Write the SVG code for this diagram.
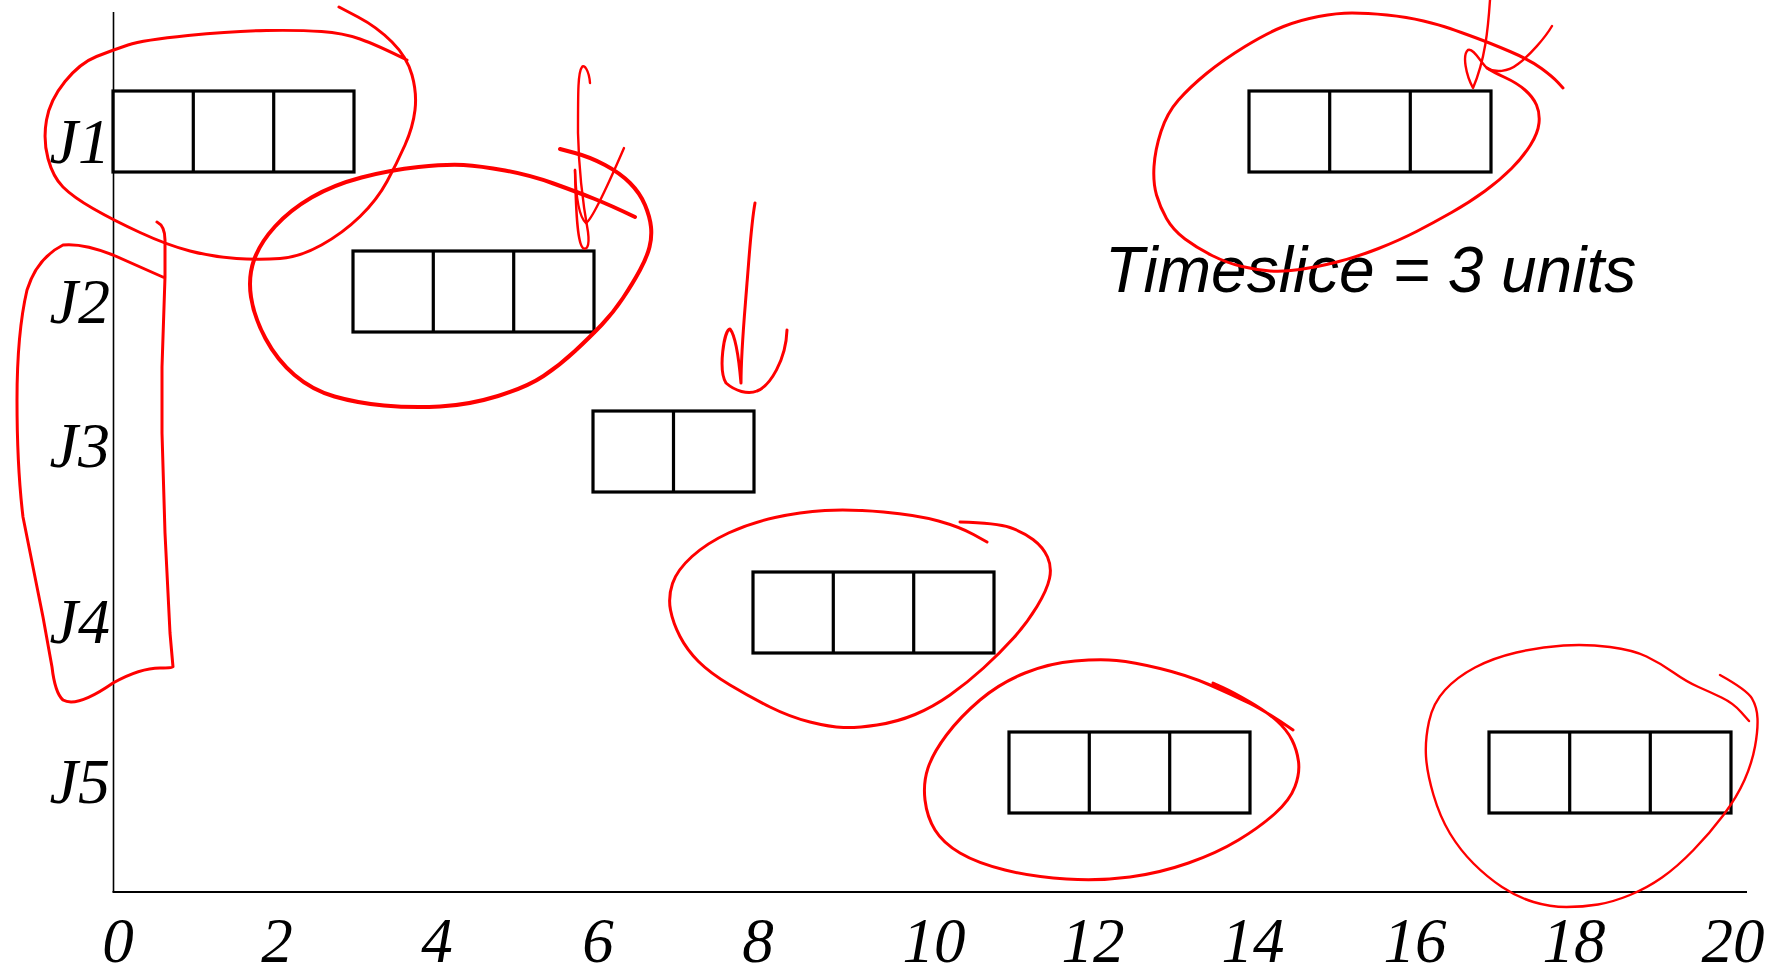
<svg xmlns="http://www.w3.org/2000/svg" width="1778" height="971" viewBox="0 0 1778 971">
<style>
.box{fill:none;stroke:#000;stroke-width:3.2}
.axis{stroke:#000;stroke-width:2;fill:none}
.lbl{font-family:"Liberation Serif","Times New Roman",serif;font-style:italic;font-size:64px;fill:#000}
.tick{font-family:"Liberation Serif","Times New Roman",serif;font-style:italic;font-size:63px;fill:#000;text-anchor:middle}
.note{font-family:"Liberation Sans",Arial,sans-serif;font-style:italic;font-size:64px;fill:#000}
.ink{fill:none;stroke:#ff0000;stroke-linecap:round;stroke-linejoin:round;stroke-width:3}
.thick{stroke-width:4}
.thin{stroke-width:2.4}
</style>
<rect x="0" y="0" width="1778" height="971" fill="#fff"/>

<g id="axes">
<line class="axis" x1="113.5" y1="12" x2="113.5" y2="892" style="stroke-width:1.6"/>
<line class="axis" x1="112.5" y1="892" x2="1747" y2="892"/>
</g>

<g id="y-labels">
<text class="lbl" x="110" y="163" text-anchor="end">J1</text>
<text class="lbl" x="110" y="323" text-anchor="end">J2</text>
<text class="lbl" x="110" y="467" text-anchor="end">J3</text>
<text class="lbl" x="110" y="643" text-anchor="end">J4</text>
<text class="lbl" x="110" y="803" text-anchor="end">J5</text>
</g>

<g id="x-labels">
<text class="tick" x="118" y="962">0</text>
<text class="tick" x="277" y="962">2</text>
<text class="tick" x="437" y="962">4</text>
<text class="tick" x="598" y="962">6</text>
<text class="tick" x="758" y="962">8</text>
<text class="tick" x="934" y="962">10</text>
<text class="tick" x="1093" y="962">12</text>
<text class="tick" x="1253" y="962">14</text>
<text class="tick" x="1415" y="962">16</text>
<text class="tick" x="1574" y="962">18</text>
<text class="tick" x="1733" y="962">20</text>
</g>

<g id="J1-run1">
<rect class="box" x="113" y="91" width="241" height="81"/>
<line class="box" x1="193.3" y1="91" x2="193.3" y2="172"/>
<line class="box" x1="273.7" y1="91" x2="273.7" y2="172"/>
</g>
<g id="J2-run1">
<rect class="box" x="353" y="251" width="241" height="81"/>
<line class="box" x1="433.3" y1="251" x2="433.3" y2="332"/>
<line class="box" x1="513.7" y1="251" x2="513.7" y2="332"/>
</g>
<g id="J3-run1">
<rect class="box" x="593" y="411" width="161" height="81"/>
<line class="box" x1="673.5" y1="411" x2="673.5" y2="492"/>
</g>
<g id="J4-run1">
<rect class="box" x="753" y="572" width="241" height="81"/>
<line class="box" x1="833.3" y1="572" x2="833.3" y2="653"/>
<line class="box" x1="913.7" y1="572" x2="913.7" y2="653"/>
</g>
<g id="J5-run1">
<rect class="box" x="1009" y="732" width="241" height="81"/>
<line class="box" x1="1089.3" y1="732" x2="1089.3" y2="813"/>
<line class="box" x1="1169.7" y1="732" x2="1169.7" y2="813"/>
</g>
<g id="J1-run2">
<rect class="box" x="1249" y="91" width="242" height="81"/>
<line class="box" x1="1329.7" y1="91" x2="1329.7" y2="172"/>
<line class="box" x1="1410.3" y1="91" x2="1410.3" y2="172"/>
</g>
<g id="J5-run2">
<rect class="box" x="1489" y="732" width="242" height="81"/>
<line class="box" x1="1569.7" y1="732" x2="1569.7" y2="813"/>
<line class="box" x1="1650.3" y1="732" x2="1650.3" y2="813"/>
</g>

<g id="timeslice-note">
<text class="note" x="1105" y="292">Timeslice = 3 units</text>
</g>

<g id="connectors">
<path class="ink" d="M339,7 L358,17 Q377,27 392,42 Q407,57 412,75 Q417,93 415,110 Q413,127 405,145 Q397,163 387,181.5 Q377,200 360,216.5 Q343,233 321.5,245 Q300,257 280,258.5 Q260,260 236.5,258.5 Q213,257 190,251 Q167,245 140,232.5 Q113,220 93,208.5 Q73,197 63,187 Q53,177 48,158.5 Q43,140 46.5,120 Q50,100 65,81.5 Q80,63 96.5,56.5 Q113,50 128,45 Q143,40 188,35.5 Q233,31 266.5,30.5 Q300,30 321.5,31.5 Q343,33 360,39 Q377,45 407,60"/>
<path class="ink" d="M157,222 Q165,226 165,240 L165,277 L162,367 L162,433 L165,533 L170,633 L173,667 Q173,668 160,668 Q140,668 113,683 Q77,708 63,700 Q55,693 52,667 L43,617 L33,567 L23,517 Q17,467 17,400 Q17,333 27,290 Q37,258 63,245 Q83,243 113,255 L165,278"/>
<path class="ink thick" d="M560,149 L575,153 Q590,157 605,165 Q620,173 630,183 Q640,193 645,205 Q650,217 651,227 Q652,237 649.5,247 Q647,257 640,270 Q633,283 623,298 Q613,313 601.5,325 Q590,337 575,351 Q560,365 543.5,376 Q527,387 498,396 Q469,405 440,406.5 Q411,408 384,405.5 Q357,403 334.5,396.5 Q312,390 294.5,375 Q277,360 265.5,338.5 Q254,317 251,297 Q248,277 254,260 Q260,243 275,226.5 Q290,210 311.5,197.5 Q333,185 361.5,177.5 Q390,170 418.5,167 Q447,164 463.5,165 Q480,166 505,170.5 Q530,175 553.5,183.5 Q577,192 593.5,198.5 Q610,205 635,217"/>
<path class="ink thin" d="M590,83 C589,70 584,64 582,67 C578,72 578,90 578,133 C579,175 584,210 588,232 C590,248 586,250 583,248 C578,244 576,220 575,170"/>
<path class="ink thin" d="M575,170 C576,200 580,218 586,223 C592,220 608,185 624,148"/>
<path class="ink" d="M755,203 C751,225 749,260 747,283 C745,310 741,350 741,383 C739,360 735,335 730,329 C724,330 718,370 726,383 C735,391 748,395 757,391 C770,386 786,360 787,330"/>
<path class="ink" d="M1563,88 L1558,82.5 Q1553,77 1541.5,68.5 Q1530,60 1510,51.5 Q1490,43 1475,37.5 Q1460,32 1450,28.5 Q1440,25 1423.5,21 Q1407,17 1387,15 Q1367,13 1352,13 Q1337,13 1318.5,16.5 Q1300,20 1283.5,26.5 Q1267,33 1245,46.5 Q1223,60 1206.5,73.5 Q1190,87 1178.5,100 Q1167,113 1161,131.5 Q1155,150 1154,166.5 Q1153,183 1156.5,195 Q1160,207 1166.5,218.5 Q1173,230 1185,239 Q1197,248 1212,255.5 Q1227,263 1242,266.5 Q1257,270 1270,271 Q1283,272 1300,269.5 Q1317,267 1337,262 Q1357,257 1378.5,248.5 Q1400,240 1416.5,231.5 Q1433,223 1451.5,212.5 Q1470,202 1485,191 Q1500,180 1511.5,168.5 Q1523,157 1530.5,145 Q1538,133 1539,123 Q1540,113 1536.5,105 Q1533,97 1525,90 Q1517,83 1505,77.5 Q1493,72 1487,68"/>
<path class="ink thin" d="M1490,0 C1488,30 1485,60 1473,88 C1466,75 1462,55 1468,50 C1474,48 1480,62 1487,68 C1495,73 1508,72 1518,64 C1530,55 1545,38 1552,26"/>
<path class="ink" d="M987,542 L973.5,534.5 Q960,527 938.5,521 Q917,515 883.5,512 Q850,509 825,510.5 Q800,512 775,517.5 Q750,523 728.5,533 Q707,543 692,556.5 Q677,570 672.5,583.5 Q668,597 670.5,610 Q673,623 680,636.5 Q687,650 698.5,661.5 Q710,673 730,685 Q750,697 770,707 Q790,717 810,722 Q830,727 843.5,727.5 Q857,728 877,725 Q897,722 915,714.5 Q933,707 950,695 Q967,683 983.5,668 Q1000,653 1013.5,638 Q1027,623 1037,606.5 Q1047,590 1049.5,578.5 Q1052,567 1047.5,557 Q1043,547 1033,539.5 Q1023,532 1010,527.5 Q997,523 960,522"/>
<path class="ink" d="M1213,683 L1223,687.5 Q1233,692 1250,702 Q1267,712 1277,721 Q1287,730 1292,740 Q1297,750 1298.5,761.5 Q1300,773 1295,786.5 Q1290,800 1275,813.5 Q1260,827 1238.5,840 Q1217,853 1188.5,863 Q1160,873 1130,877 Q1100,881 1066.5,879 Q1033,877 1005,870 Q977,863 960,853 Q943,843 935,830 Q927,817 925,800 Q923,783 928,768 Q933,753 946.5,735 Q960,717 980,700 Q1000,683 1025,673 Q1050,663 1075,661 Q1100,659 1116.5,660.5 Q1133,662 1160,668.5 Q1187,675 1210,685 Q1233,695 1250,703.5 Q1267,712 1293,730"/>
<path class="ink thin" d="M1749,721 L1741,712 Q1733,703 1721.5,697.5 Q1710,692 1698.5,687 Q1687,682 1673.5,672.5 Q1660,663 1646.5,656.5 Q1633,650 1610,647 Q1587,644 1563.5,645.5 Q1540,647 1516.5,652.5 Q1493,658 1475,667.5 Q1457,677 1445,690 Q1433,703 1429,721.5 Q1425,740 1426,756.5 Q1427,773 1433.5,795 Q1440,817 1450,833.5 Q1460,850 1473.5,863.5 Q1487,877 1502,887 Q1517,897 1533.5,902 Q1550,907 1566.5,907 Q1583,907 1598,904.5 Q1613,902 1630,895 Q1647,888 1662,877.5 Q1677,867 1693.5,850 Q1710,833 1723.5,815 Q1737,797 1744.5,780 Q1752,763 1755,746.5 Q1758,730 1757.5,718.5 Q1757,707 1752,698.5 Q1747,690 1720,675"/>
</g>
</svg>
